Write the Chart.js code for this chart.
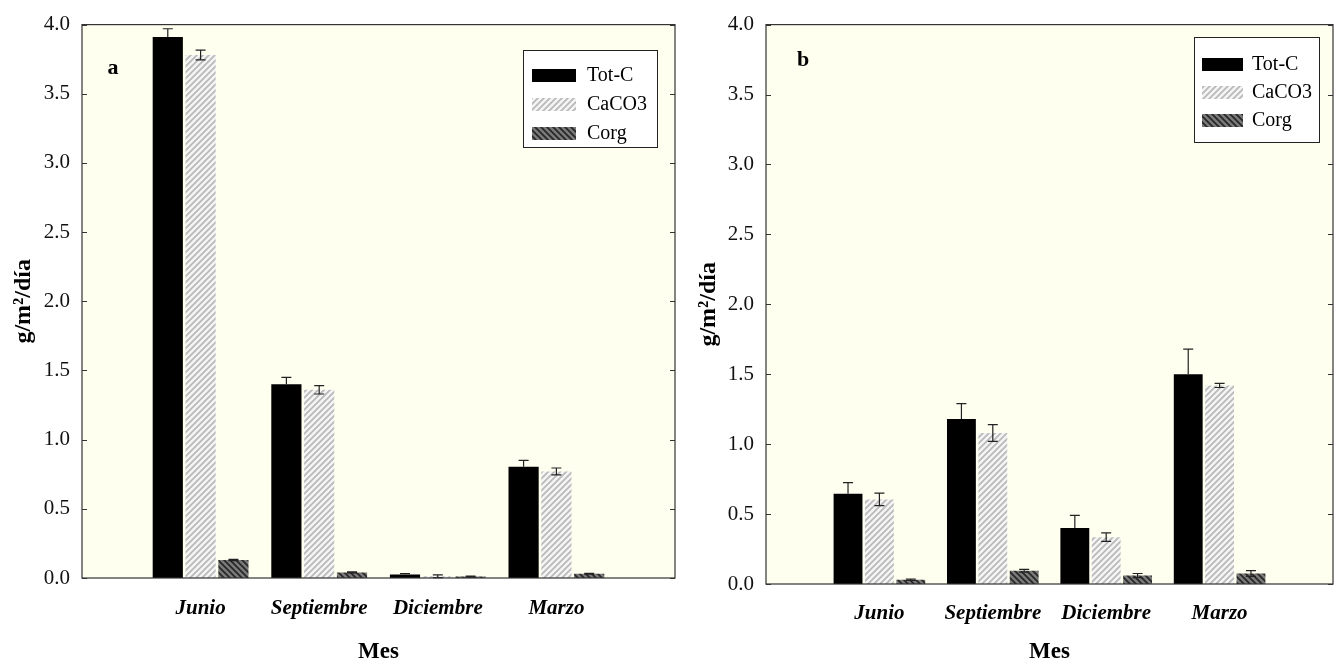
<!DOCTYPE html>
<html>
<head>
<meta charset="utf-8">
<script src="https://cdn.jsdelivr.net/npm/chart.js@4.4.0/dist/chart.umd.min.js"></script>
<style>
  html, body { margin: 0; padding: 0; background: #fff; }
  #wrapA { position: absolute; left: 0; top: 0; width: 690px; height: 666px; }
  #wrapB { position: absolute; left: 690px; top: 0; width: 652px; height: 666px; }
</style>
</head>
<body>
<div id="wrapA"><canvas id="chartA"></canvas></div>
<div id="wrapB"><canvas id="chartB"></canvas></div>
<script>
const months = ['Junio', 'Septiembre', 'Diciembre', 'Marzo'];
const positions = [1, 2, 3, 4];
const yTicks = [0, 0.5, 1, 1.5, 2, 2.5, 3, 3.5, 4];
const seriesNames = ['Tot-C', 'CaCO3', 'Corg'];

// panel a
const totC_a = [3.91, 1.40, 0.025, 0.805];
const totC_a_err = [0.06, 0.05, 0.006, 0.045];
const caco3_a = [3.78, 1.36, 0.012, 0.77];
const caco3_a_err = [0.035, 0.03, 0.01, 0.025];
const corg_a = [0.13, 0.04, 0.01, 0.03];
const corg_a_err = [0.004, 0.004, 0.003, 0.003];

// panel b
const totC_b = [0.645, 1.18, 0.40, 1.50];
const totC_b_err = [0.08, 0.11, 0.09, 0.18];
const caco3_b = [0.605, 1.08, 0.335, 1.42];
const caco3_b_err = [0.045, 0.06, 0.03, 0.015];
const corg_b = [0.03, 0.095, 0.06, 0.075];
const corg_b_err = [0.005, 0.01, 0.015, 0.02];

const serif = "'Liberation Serif', 'Times New Roman', serif";

function stripes(bg, fg, forward) {
  const c = document.createElement('canvas');
  c.width = 6; c.height = 6;
  const g = c.getContext('2d');
  g.fillStyle = bg;
  g.fillRect(0, 0, 6, 6);
  g.strokeStyle = fg;
  g.lineWidth = 1.7;
  g.beginPath();
  if (forward) {
    g.moveTo(0, 6); g.lineTo(6, 0);
    g.moveTo(-3, 3); g.lineTo(3, -3);
    g.moveTo(3, 9); g.lineTo(9, 3);
  } else {
    g.moveTo(0, 0); g.lineTo(6, 6);
    g.moveTo(-3, 3); g.lineTo(3, 9);
    g.moveTo(3, -3); g.lineTo(9, 3);
  }
  g.stroke();
  return g.createPattern(c, 'repeat');
}

const fills = ['#000000', stripes('#f4f4f4', '#b8b8b8', true), stripes('#7a7a7a', '#262626', false)];
const lowerErr = [false, true, true];

// error bars, frame, inner ticks, letter and legend
const decor = {
  id: 'decor',
  beforeDraw(chart) {
    const { ctx, chartArea: a } = chart;
    ctx.save();
    ctx.fillStyle = '#fffff0';
    ctx.fillRect(a.left, a.top, a.right - a.left, a.bottom - a.top);
    ctx.restore();
  },
  afterDatasetsDraw(chart) {
    const { ctx, scales: { y } } = chart;
    ctx.save();
    ctx.strokeStyle = '#222';
    ctx.lineWidth = 1.2;
    chart.data.datasets.forEach((ds, di) => {
      chart.getDatasetMeta(di).data.forEach((bar, i) => {
        const v = ds.data[i].y, e = ds.errors[i];
        const top = y.getPixelForValue(v + e);
        const bot = lowerErr[di] ? y.getPixelForValue(v - e) : y.getPixelForValue(v);
        ctx.beginPath();
        ctx.moveTo(bar.x, top); ctx.lineTo(bar.x, bot);
        ctx.moveTo(bar.x - 5, top); ctx.lineTo(bar.x + 5, top);
        if (lowerErr[di]) { ctx.moveTo(bar.x - 5, bot); ctx.lineTo(bar.x + 5, bot); }
        ctx.stroke();
      });
    });
    ctx.restore();
  },
  afterDraw(chart, args, opts) {
    const { ctx, chartArea: a, scales: { y } } = chart;
    ctx.save();
    ctx.strokeStyle = '#333';
    ctx.lineWidth = 1.2;
    ctx.strokeRect(a.left, a.top, a.right - a.left, a.bottom - a.top);
    ctx.beginPath();
    yTicks.forEach(t => {
      const py = Math.round(y.getPixelForValue(t)) + 0.5;
      ctx.moveTo(a.left, py); ctx.lineTo(a.left + 5, py);
      ctx.moveTo(a.right, py); ctx.lineTo(a.right - 5, py);
    });
    ctx.stroke();

    ctx.fillStyle = '#000';
    ctx.font = 'bold 22px ' + serif;
    ctx.textAlign = 'center';
    ctx.textBaseline = 'middle';
    ctx.fillText(opts.letter, opts.letterX, opts.letterY);

    const L = opts.legend;
    ctx.fillStyle = '#fff';
    ctx.fillRect(L.x, L.y, L.w, L.h);
    ctx.strokeStyle = '#222';
    ctx.lineWidth = 1;
    ctx.strokeRect(L.x + 0.5, L.y + 0.5, L.w, L.h);
    ctx.font = '20px ' + serif;
    ctx.textAlign = 'left';
    chart.data.datasets.forEach((ds, di) => {
      const cy = L.row0 + di * L.step;
      ctx.fillStyle = ds.backgroundColor;
      ctx.fillRect(L.sx, cy - 6, L.sw, 13);
      ctx.fillStyle = '#000';
      ctx.fillText(ds.label, L.tx, cy + 1);
    });
    ctx.restore();
  }
};

function makePanel(id, vals, errs, p) {
  const datasets = vals.map((arr, k) => ({
    label: seriesNames[k],
    data: arr.map((v, i) => ({ x: positions[i], y: v })),
    errors: errs[k],
    backgroundColor: fills[k],
    borderWidth: 0,
    categoryPercentage: 0.83,
    barPercentage: 0.92
  }));
  return new Chart(document.getElementById(id), {
    type: 'bar',
    data: { datasets },
    plugins: [decor],
    options: {
      responsive: true,
      maintainAspectRatio: false,
      animation: false,
      layout: { padding: { top: p.top, right: p.right, left: 0, bottom: 0 } },
      plugins: {
        legend: { display: false },
        tooltip: { enabled: false },
        decor: { letter: p.letter, letterX: p.letterX, letterY: p.letterY, legend: p.legend }
      },
      scales: {
        x: {
          type: 'linear',
          min: 0,
          max: 5,
          offset: false,
          afterBuildTicks: s => { s.ticks = positions.map(v => ({ value: v })); },
          afterFit: s => { s.height = p.xHeight; },
          grid: { display: false, drawTicks: false, offset: false },
          border: { display: false },
          ticks: {
            autoSkip: false,
            maxRotation: 0,
            padding: p.xPad,
            color: '#000',
            font: { family: serif, size: 21, weight: 'bold', style: 'italic' },
            callback: v => months[v - 1] || ''
          },
          title: {
            display: true,
            text: 'Mes',
            color: '#000',
            font: { family: serif, size: 23, weight: 'bold' },
            padding: { top: 0, bottom: 0 }
          }
        },
        y: {
          min: 0,
          max: 4,
          afterBuildTicks: s => { s.ticks = yTicks.map(v => ({ value: v })); },
          afterFit: s => { s.width = p.yWidth; },
          grid: { display: false, drawTicks: false },
          border: { display: false },
          ticks: {
            padding: 12,
            color: '#111',
            font: { family: serif, size: 21 },
            callback: v => v.toFixed(1)
          },
          title: {
            display: true,
            text: 'g/m²/día',
            color: '#000',
            font: { family: serif, size: 24, weight: 'bold' },
            padding: { top: p.yTitlePad, bottom: p.yTitlePad }
          }
        }
      }
    }
  });
}

makePanel('chartA', [totC_a, caco3_a, corg_a], [totC_a_err, caco3_a_err, corg_a_err], {
  top: 22, right: 15, xHeight: 88, xPad: 18, yWidth: 82, yTitlePad: 9,
  letter: 'a', letterX: 113, letterY: 68,
  legend: { x: 523, y: 50, w: 134, h: 97, row0: 75, step: 29, sx: 532, sw: 44, tx: 587 }
});

makePanel('chartB', [totC_b, caco3_b, corg_b], [totC_b_err, caco3_b_err, corg_b_err], {
  top: 20, right: 9, xHeight: 82, xPad: 17, yWidth: 76, yTitlePad: 4,
  letter: 'b', letterX: 113, letterY: 60,
  legend: { x: 504, y: 37, w: 125, h: 105, row0: 64, step: 28, sx: 512, sw: 41, tx: 562 }
});
</script>
</body>
</html>
